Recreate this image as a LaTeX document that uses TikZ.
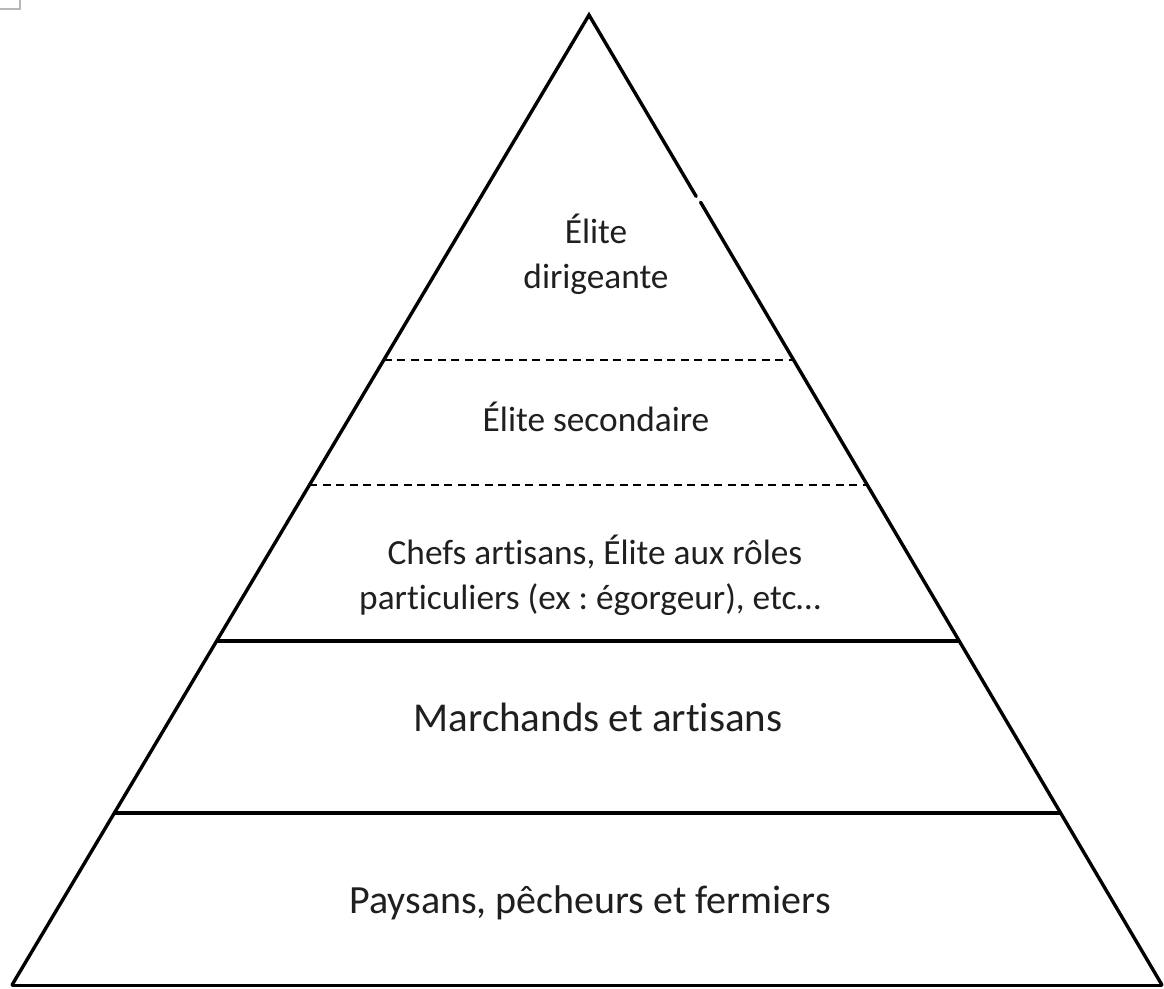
\documentclass[tikz,border=0pt]{standalone}
\usepackage{fontspec}
\setmainfont{Carlito}[Ligatures=NoCommon]
\usetikzlibrary{calc}
\frenchspacing
\tikzset{
  side/.style={line width=3.4pt, line cap=round, line join=miter},
  solidsep/.style={line width=4pt},
  dashsep/.style={line width=2pt, dash pattern=on 8pt off 5.5pt},
  smalltxt/.style={anchor=base, inner sep=0pt, text=black!88, font=\fontsize{35.3}{46}\selectfont},
  bigtxt/.style={anchor=base, inner sep=0pt, text=black!88, font=\fontsize{41}{50}\selectfont},
}
\begin{document}
\begin{tikzpicture}[x=1pt,y=-1pt]
\useasboundingbox (0,0) rectangle (1164,988);
% corner mark
\draw[gray!55, line width=2pt] (0,9) -- (20,9) -- (20,0);
% triangle corners
\coordinate (A) at (589,15);
\coordinate (L) at (12,985);
\coordinate (R) at (1162,985);
% sides
\draw[side] (L) -- (A) -- ($(A)!0.187!(R)$);
\draw[side] ($(A)!0.193!(R)+(1,0)$) -- (R);
\draw[line width=3pt] (L) -- (R);
% separators
\coordinate (d1l) at ($(A)!0.3557!(L)$);
\coordinate (d1r) at ($(A)!0.3557!(R)$);
\coordinate (d2l) at ($(A)!0.4845!(L)$);
\coordinate (d2r) at ($(A)!0.4845!(R)$);
\coordinate (s1l) at ($(A)!0.6454!(L)$);
\coordinate (s1r) at ($(A)!0.6454!(R)$);
\coordinate (s2l) at ($(A)!0.8227!(L)$);
\coordinate (s2r) at ($(A)!0.8227!(R)$);
\draw[dashsep] (d1l) -- (d1r);
\draw[dashsep] (d2l) -- (d2r);
\draw[solidsep] (s1l) -- (s1r);
\draw[solidsep] (s2l) -- (s2r);
% labels
\node[smalltxt] (t1a) at (596,243) {Élite};
\node[smalltxt] (t1b) at (596,288) {dirigeante};
\node[smalltxt] (t2) at (596,431) {Élite secondaire};
\node[smalltxt] (t3a) at (595,564) {Chefs artisans, Élite aux rôles};
\node[smalltxt] (t3b) at (590,609) {particuliers (ex : égorgeur), etc…};
\node[bigtxt] (t4) at (598,731) {Marchands et artisans};
\node[bigtxt, font=\fontsize{40}{50}\selectfont] (t5) at (590,913) {Paysans, pêcheurs et fermiers};
\end{tikzpicture}
\end{document}
